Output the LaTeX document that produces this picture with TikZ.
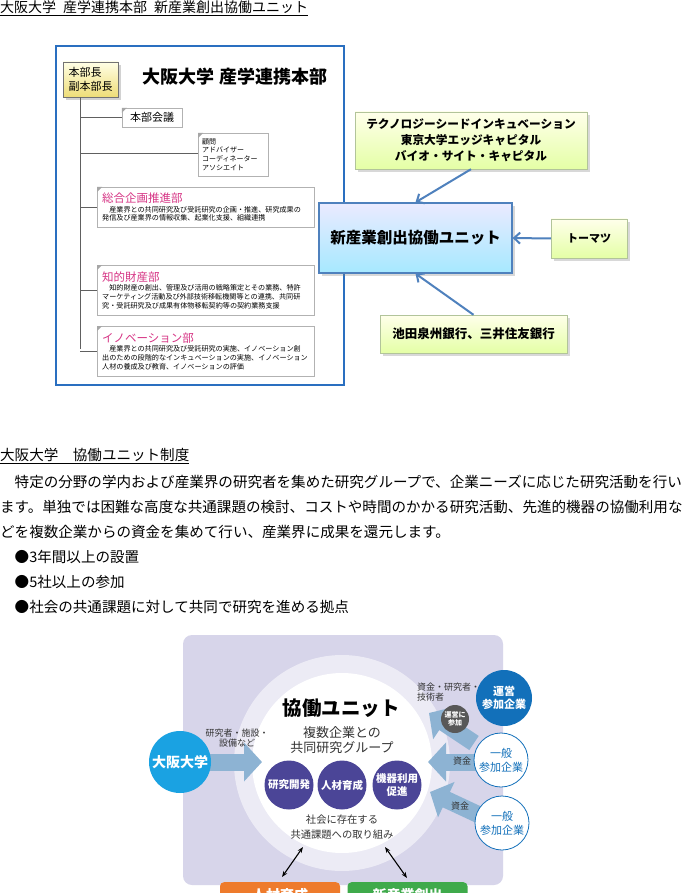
\documentclass[tikz,border=0pt]{standalone}
\usepackage{fontspec}
\setmainfont{Noto Sans CJK JP}
\usetikzlibrary{arrows.meta,positioning,shadows}
\definecolor{panelblue}{HTML}{2A6FC0}
\definecolor{deptpink}{HTML}{D63384}
\definecolor{linkblue}{HTML}{4F81BD}
\definecolor{greenedge}{HTML}{B2C49A}
\definecolor{lavender}{HTML}{D7D5EA}
\definecolor{ringpale}{HTML}{ECEBF5}
\definecolor{taskpurple}{HTML}{4B4597}
\definecolor{osakacyan}{HTML}{1AA2E2}
\definecolor{flowsteel}{HTML}{8DB3D3}
\definecolor{corpblue}{HTML}{1270BA}
\definecolor{joingray}{HTML}{585858}
\definecolor{outorange}{HTML}{EE7B2C}
\definecolor{outgreen}{HTML}{3FAA4B}
\definecolor{inktext}{HTML}{333333}
\newcommand{\pxfont}[2]{\fontsize{#1}{#2}\selectfont}
\tikzset{
  plain/.style={inner sep=0pt,text=black},
  bodyline/.style={plain,anchor=west,font=\pxfont{14.55}{16}},
  orgbox/.style={rectangle,draw=gray!60,fill=white,inner sep=3pt,align=left},
  deptbox/.style={orgbox,anchor=north west,minimum width=217pt,text width=207pt,
    inner xsep=5pt,font=\pxfont{7.1}{8.6}},
  headbox/.style={rectangle,draw=black!55,top color=yellow!10!white,bottom color=brown!45!yellow!60,
    minimum width=55pt,minimum height=35pt,align=left,inner sep=2pt,font=\pxfont{11}{14},drop shadow={opacity=0.35}},
  greenbox/.style={rectangle,draw=greenedge,top color=yellow!8!white,bottom color=green!30!yellow!35,
    align=center,drop shadow={opacity=0.3}},
  unitbox/.style={rectangle,draw=linkblue,line width=1.2pt,top color=blue!8!white,bottom color=blue!25!cyan!35,
    align=center,drop shadow={opacity=0.3}},
  corner/.style={fill=gray!70},
  orgline/.style={draw=gray!75!black,line width=1pt},
  linkarrow/.style={-{Straight Barb[length=6pt,width=11pt]},line width=2pt,draw=linkblue},
  flowarrow/.style={-{Triangle[length=18pt,width=38pt]},line width=17pt,draw=flowsteel},
  twoway/.style={{Stealth[length=6pt]}-{Stealth[length=6pt]},line width=1.1pt,draw=black},
  roundtask/.style={circle,fill=taskpurple,text=white,minimum size=49pt,inner sep=0pt,align=center,
    font=\bfseries\pxfont{10.5}{13}},
  corpcircle/.style={circle,fill=corpblue,text=white,minimum size=56pt,inner sep=0pt,align=center,
    font=\bfseries\pxfont{11}{13.5}},
  membercircle/.style={circle,draw=corpblue,fill=white,text=corpblue,line width=0.8pt,minimum size=54pt,
    inner sep=0pt,align=center,font=\pxfont{11}{14}},
  outbox/.style={rectangle,rounded corners=4pt,text=white,minimum width=120pt,minimum height=26pt,
    anchor=north,font=\bfseries\pxfont{14}{16}},
  smalllabel/.style={plain,text=inktext,align=center,font=\pxfont{9}{9.5}}
}
\begin{document}
\begin{tikzpicture}[x=1pt,y=-1pt]
\useasboundingbox (0,0) rectangle (684,893);
\clip (0,0) rectangle (684,893);
\fill[white] (0,0) rectangle (684,893);

% heading of the first part
\node[plain,anchor=west,font=\pxfont{14}{16}] (toptitle) at (0,8)
  {\underline{大阪大学\hspace{7pt}産学連携本部\hspace{7pt}新産業創出協働ユニット}};

% organisation panel
\node[draw=panelblue,line width=2.2pt,fill=white,minimum width=288pt,minimum height=339pt] (panel) at (200,215.5) {};
\node[headbox] (head) at (90.5,79.5) {本部長\\副本部長};
\node[plain,font=\bfseries\pxfont{18}{20}] (hqtitle) at (235,77) {大阪大学\hspace{5pt}産学連携本部};
\node[orgbox,minimum width=60pt,minimum height=19pt,font=\pxfont{11}{13}] (meeting) at (152,117.5) {本部会議};
\node[orgbox,anchor=north west,minimum width=70pt,minimum height=43pt,text width=62pt,inner xsep=4pt,
  font=\pxfont{7}{8.8}] (advisor) at (198,133) {顧問\\アドバイザー\\コーディネーター\\アソシエイト};
\node[deptbox,minimum height=40pt] (planning) at (97,187)
  {{\color{deptpink}\pxfont{11.5}{13}総合企画推進部}\\[1pt]
   　産業界との共同研究及び受託研究の企画・推進、研究成果の\\
   発信及び産業界の情報収集、起業化支援、組織連携};
\node[deptbox,minimum height=50pt] (ipdept) at (97,265)
  {{\color{deptpink}\pxfont{11.5}{13}知的財産部}\\[1pt]
   　知的財産の創出、管理及び活用の戦略策定とその業務、特許\\
   マーケティング活動及び外部技術移転機関等との連携、共同研\\
   究・受託研究及び成果有体物移転契約等の契約業務支援};
\node[deptbox,minimum height=50pt] (innovation) at (97,326)
  {{\color{deptpink}\pxfont{11.5}{13}イノベーション部}\\[1pt]
   　産業界との共同研究及び受託研究の実施、イノベーション創\\
   出のための段階的なインキュベーションの実施、イノベーション\\
   人材の養成及び教育、イノベーションの評価};
\foreach \orgnode in {meeting,advisor,planning,ipdept,innovation}
  \fill[corner] (\orgnode.north west) -- ++(5,0) -- ++(-5,5) -- cycle;

% tree lines
\coordinate (spine) at (80,349);
\draw[orgline] (head.south -| spine) -- (spine);
\draw[orgline] (meeting.west -| spine) -- (meeting.west);
\draw[orgline] (spine |- 0,154) -- (advisor.west |- 0,154);
\draw[orgline] (planning.west -| spine) -- (planning.west);
\draw[orgline] (ipdept.west -| spine) -- (ipdept.west);
\draw[orgline] (innovation.west -| spine) -- (innovation.west);

% partners of the unit
\node[greenbox,minimum width=232pt,minimum height=57pt,font=\bfseries\pxfont{11.7}{16}] (seed) at (471,140.5)
  {テクノロジーシードインキュベーション\\東京大学エッジキャピタル\\バイオ・サイト・キャピタル};
\node[unitbox,minimum width=193pt,minimum height=70pt,font=\bfseries\pxfont{15.5}{18}] (unit) at (415.5,238) {新産業創出協働ユニット};
\node[greenbox,minimum width=76pt,minimum height=39pt,font=\bfseries\pxfont{11}{13}] (tohmatsu) at (589,238.5) {トーマツ};
\node[greenbox,minimum width=187pt,minimum height=38pt,font=\bfseries\pxfont{12.5}{15}] (banks) at (473.5,334) {池田泉州銀行、三井住友銀行};
\draw[linkarrow] (seed.south) -- (unit.north);
\draw[linkarrow] (tohmatsu.west) -- (unit.east);
\draw[linkarrow] (banks.north) -- (unit.south);

% text of the second part
\node[plain,anchor=west,font=\pxfont{14.55}{16}] (subtitle) at (0,456) {\underline{大阪大学　協働ユニット制度}};
\node[bodyline] (line1) at (0,482) {　特定の分野の学内および産業界の研究者を集めた研究グループで、企業ニーズに応じた研究活動を行い};
\node[bodyline] (line2) at (0,507) {ます。単独では困難な高度な共通課題の検討、コストや時間のかかる研究活動、先進的機器の協働利用な};
\node[bodyline] (line3) at (0,532) {どを複数企業からの資金を集めて行い、産業界に成果を還元します。};
\node[bodyline] (line4) at (0,557) {　●3年間以上の設置};
\node[bodyline] (line5) at (0,582) {　●5社以上の参加};
\node[bodyline] (line6) at (0,607) {　●社会の共通課題に対して共同で研究を進める拠点};

% unit scheme
\fill[lavender,rounded corners=9pt] (183,635) rectangle (503,885);
\fill[ringpale] (342,763) circle (108pt);
\fill[white] (342,763) circle (90pt);

\coordinate (unitin) at (262,762);
\coordinate (osakaat) at (180,762);
\draw[flowarrow] (osakaat) -- (unitin);
\node[circle,fill=osakacyan,text=white,minimum size=62pt,inner sep=0pt,font=\bfseries\pxfont{14}{16}] (osaka) at (osakaat) {大阪大学};
\node[smalllabel] (offer) at (237,738) {研究者・施設・\\設備など};

\node[plain,font=\bfseries\pxfont{19.5}{21}] (unitname) at (341,708) {協働ユニット};
\node[plain,text=inktext,align=center,font=\pxfont{13}{15.5}] (group) at (342,740) {複数企業との\\共同研究グループ};
\node[roundtask] (rnd) at (289,785) {研究開発};
\node[roundtask] (talentdev) at (342,785) {人材育成};
\node[roundtask] (equip) at (397,785) {機器利用\\促進};
\node[plain,text=inktext,align=center,font=\pxfont{10.3}{15}] (issues) at (342,827) {社会に存在する\\共通課題への取り組み};

\coordinate (issuesL) at (303,847);
\coordinate (issuesR) at (385,847);
\coordinate (talentend) at (282,877);
\coordinate (industryend) at (407,878);
\node[outbox,fill=outorange] (talentout) at (280,882) {人材育成};
\node[outbox,fill=outgreen] (industryout) at (407.5,882) {新産業創出};
\draw[twoway] (issuesL) -- (talentend);
\draw[twoway] (issuesR) -- (industryend);

% funding side
\coordinate (fundtipA) at (429,713);
\coordinate (fundtipB) at (428,762);
\coordinate (fundtipC) at (430,792);
\coordinate (leadfrom) at (474,743);
\coordinate (memberfromA) at (490,762);
\coordinate (memberfromC) at (490,820);
\draw[flowarrow] (leadfrom) -- (fundtipA);
\draw[flowarrow] (memberfromA) -- (fundtipB);
\draw[flowarrow] (memberfromC) -- (fundtipC);
\node[corpcircle] (leadcorp) at (504,698) {運営\\参加企業};
\node[membercircle] (memberA) at (501,760) {一般\\参加企業};
\node[membercircle] (memberC) at (502,823) {一般\\参加企業};
\node[circle,fill=joingray,text=white,minimum size=28pt,inner sep=0pt,align=center,
  font=\bfseries\pxfont{7}{8.5}] (join) at (455,719) {運営に\\参加};
\node[smalllabel,anchor=west,align=left] (fundlead) at (417,692) {資金・研究者・\\技術者};
\node[smalllabel] (fundA) at (462,761) {資金};
\node[smalllabel] (fundC) at (460,806) {資金};
\end{tikzpicture}
\end{document}
